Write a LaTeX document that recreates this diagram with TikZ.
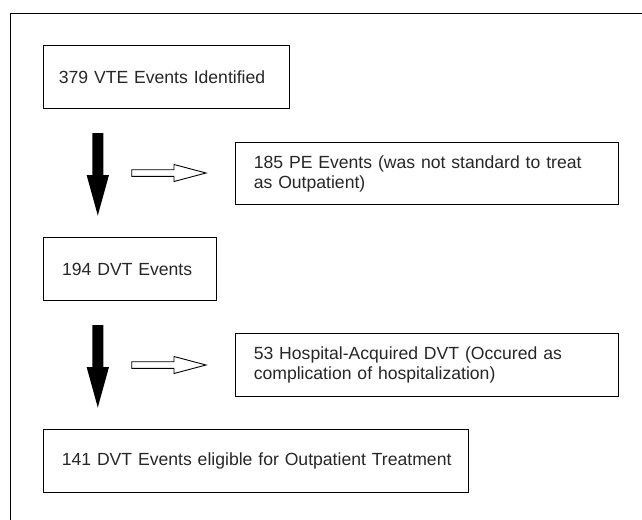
\documentclass[tikz,border=0pt]{standalone}
\usepackage{fontspec}
\setmainfont{Liberation Sans}
\begin{document}
\begin{tikzpicture}[x=1pt,y=-1pt,
  box/.style={draw=black, line width=1pt, anchor=north west, inner xsep=0pt, inner ysep=0pt,
    align=left, font=\fontsize{17.6}{20}\selectfont, text=black!85},
  downarrow/.pic={\fill[black] (-5.5,0) -- (5.5,0) -- (5.5,42) -- (11.2,42) -- (0,82.5) -- (-11.2,42) -- (-5.5,42) -- cycle;},
  rightarrow/.pic={\draw[black, line width=0.9pt, fill=white] (0,-3.3) -- (42.3,-3.3) -- (42.3,-8.5) -- (74.3,0) -- (42.3,8.5) -- (42.3,3.3) -- (0,3.3) -- cycle;}
]
\useasboundingbox (0,0) rectangle (642,519);
% outer frame (cut by the page on the right and bottom)
\draw[line width=1.3pt] (10.5,540) -- (10.5,13.5) -- (660,13.5);

\node[box, minimum width=246pt, minimum height=63pt, text width=216pt, inner xsep=15pt] (b1) at (43.3,45.3) {\mbox{379 VTE Events Identified}};
\node[box, minimum width=383pt, minimum height=62.5pt, text width=347pt, inner xsep=18pt] (b2) at (235.3,141.7) {\mbox{185 PE Events (was not standard to treat}\\as Outpatient)};
\node[box, minimum width=172.5pt, minimum height=62.7pt, text width=136pt, inner xsep=18.3pt] (b3) at (43.3,237.3) {\mbox{194 DVT Events}};
\node[box, minimum width=383pt, minimum height=63pt, text width=347pt, inner xsep=18pt] (b4) at (235.3,333) {\mbox{53 Hospital-Acquired DVT (Occured as}\\\mbox{complication of hospitalization)}};
\node[box, minimum width=425pt, minimum height=62.4pt, text width=389pt, inner xsep=18pt] (b5) at (43.3,429.3) {\mbox{141 DVT Events eligible for Outpatient Treatment}};

\pic (d1) at (97.8,133) {downarrow};
\pic (d2) at (97.8,325) {downarrow};
\pic (r1) at (131.7,173) {rightarrow};
\pic (r2) at (131.7,365) {rightarrow};
\end{tikzpicture}
\end{document}
